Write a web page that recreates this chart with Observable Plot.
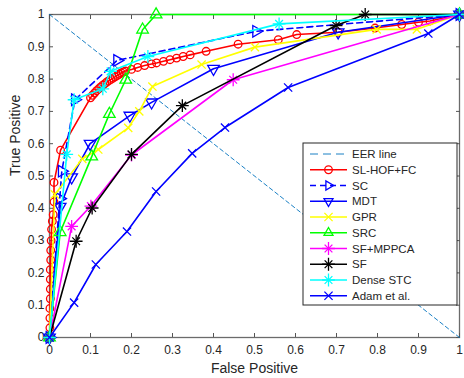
<!DOCTYPE html>
<html><head><meta charset="utf-8">
<script src="https://cdn.jsdelivr.net/npm/d3@7"></script>
<script src="https://cdn.jsdelivr.net/npm/@observablehq/plot@0.6"></script>
<style>body{margin:0;background:#fff;font-family:"Liberation Sans",Arial,sans-serif}</style>
</head><body><div id="chart"></div>
<script>
// ---- data (False Positive rate, True Positive rate) ----
const ticks = [0,0.1,0.2,0.3,0.4,0.5,0.6,0.7,0.8,0.9,1];
const seriesNames = ["EER line","SL-HOF+FC","SC","MDT","GPR","SRC","SF+MPPCA","SF","Dense STC","Adam et al."];

const eerX = [0,1];
const eerY = [1,0];

const slhofX = [0,0.001,0.001,0.001,0.002,0.002,0.002,0.002,0.003,0.003,0.004,0.005,0.007,0.009,0.011,0.011,0.027,
  0.100,0.105,0.110,0.115,0.120,0.125,0.130,0.135,0.140,0.145,0.150,0.155,0.160,0.165,0.170,0.175,0.180,0.185,
  0.200,0.215,0.232,0.249,0.261,0.278,0.294,0.310,0.326,0.343,0.382,0.460,0.558,0.603,0.704,0.794,0.859,0.900,0.928,1];
const slhofY = [0,0.03,0.06,0.09,0.12,0.15,0.18,0.21,0.24,0.27,0.30,0.335,0.36,0.38,0.42,0.48,0.58,
  0.742,0.750,0.757,0.764,0.770,0.776,0.781,0.786,0.791,0.795,0.799,0.803,0.807,0.811,0.815,0.819,0.822,0.825,
  0.830,0.836,0.842,0.847,0.850,0.855,0.860,0.865,0.870,0.875,0.886,0.908,0.922,0.938,0.945,0.958,0.969,0.976,0.980,1];

const scX = [0,0.025,0.030,0.062,0.165,0.504,1];
const scY = [0,0.43,0.515,0.736,0.858,0.948,1];

const mdtX = [0,0.026,0.054,0.099,0.196,0.249,0.400,0.704,1];
const mdtY = [0,0.405,0.496,0.600,0.687,0.728,0.832,0.945,1];

const gprX = [0,0.013,0.080,0.119,0.192,0.219,0.251,0.371,0.501,0.798,0.896,1];
const gprY = [0,0.443,0.553,0.582,0.649,0.700,0.777,0.845,0.899,0.954,0.954,1];

const srcX = [0,0.026,0.103,0.146,0.186,0.227,0.260,1];
const srcY = [0,0.326,0.560,0.692,0.798,0.953,1,1];

const sfmX = [0,0.054,0.101,0.200,0.448,1];
const sfmY = [0,0.344,0.407,0.565,0.798,1];

const sfX = [0,0.065,0.104,0.200,0.324,0.699,0.770,1];
const sfY = [0,0.298,0.401,0.567,0.718,0.966,1,1];

const stcX = [0,0.042,0.060,0.130,0.149,0.240,0.560,1];
const stcY = [0,0.567,0.736,0.770,0.824,0.870,0.971,1];

const adamX = [0,0.060,0.113,0.189,0.260,0.348,0.428,0.582,0.924,1];
const adamY = [0,0.108,0.226,0.328,0.452,0.570,0.650,0.774,0.941,1];

// ---- series definitions ----
const rows = (xs, ys) => xs.map((x, i) => ({x, y: ys[i]}));
const series = [
  {name: seriesNames[1], data: rows(slhofX, slhofY), color: "#ff0000", sym: "circle"},
  {name: seriesNames[2], data: rows(scX, scY), color: "#0000ff", sym: "triangle", rot: 90, dash: "6,4"},
  {name: seriesNames[3], data: rows(mdtX, mdtY), color: "#0000ff", sym: "triangle", rot: 180},
  {name: seriesNames[4], data: rows(gprX, gprY), color: "#ffff00", sym: "times"},
  {name: seriesNames[5], data: rows(srcX, srcY), color: "#00ff00", sym: "triangle", rot: 0},
  {name: seriesNames[6], data: rows(sfmX, sfmY), color: "#ff00ff", sym: "star8"},
  {name: seriesNames[7], data: rows(sfX, sfY), color: "#000000", sym: "star8"},
  {name: seriesNames[8], data: rows(stcX, stcY), color: "#00ffff", sym: "star8"},
  {name: seriesNames[9], data: rows(adamX, adamY), color: "#0000ff", sym: "times"}
];

const LW = 1.6;
function dotMarks(s) {
  const base = {x: "x", y: "y", stroke: s.color, fill: "none", strokeWidth: 1.3};
  if (s.sym === "star8") return [
    Plot.dot(s.data, {...base, symbol: "plus", r: 4.2}),
    Plot.dot(s.data, {...base, symbol: "times", r: 3.6})
  ];
  if (s.sym === "triangle") return [Plot.dot(s.data, {...base, symbol: "triangle", r: 4.3, rotate: s.rot})];
  if (s.sym === "times") return [Plot.dot(s.data, {...base, symbol: "times", r: 3.8})];
  return [Plot.dot(s.data, {...base, symbol: "circle", r: 3.8})];
}

const fmt = d => String(+d.toFixed(1));
const axisCol = "#262626";

const marks = [
  Plot.frame({stroke: "#6b6b6b", strokeWidth: 1.3}),
  Plot.axisX(ticks, {anchor: "bottom", tickSize: 0, tickPadding: 8, tickFormat: fmt, fontSize: 12, label: null, color: axisCol}),
  Plot.axisY(ticks, {anchor: "left", tickSize: 0, tickPadding: 5, tickFormat: fmt, fontSize: 12, label: null, color: axisCol}),
  Plot.axisX(ticks, {anchor: "bottom", tickSize: -4, tickFormat: () => "", label: null, stroke: "#555"}),
  Plot.axisX(ticks, {anchor: "top", tickSize: -4, tickFormat: () => "", label: null, stroke: "#555"}),
  Plot.axisY(ticks, {anchor: "left", tickSize: -4, tickFormat: () => "", label: null, stroke: "#555"}),
  Plot.axisY(ticks, {anchor: "right", tickSize: -4, tickFormat: () => "", label: null, stroke: "#555"}),
  Plot.text(["False Positive"], {frameAnchor: "bottom", dy: 35, fontSize: 14, fill: axisCol}),
  Plot.text(["True Positive"], {frameAnchor: "left", dx: -34, rotate: -90, fontSize: 14, fill: axisCol}),
  Plot.line(rows(eerX, eerY), {x: "x", y: "y", stroke: "#0072BD", strokeWidth: 0.9, strokeDasharray: "4,3"})
];
for (const s of series) {
  marks.push(Plot.line(s.data, {x: "x", y: "y", stroke: s.color, strokeWidth: LW, strokeDasharray: s.dash}));
  marks.push(...dotMarks(s));
}

const svg = Plot.plot({
  width: 464, height: 378,
  marginLeft: 49, marginRight: 5, marginTop: 14, marginBottom: 41,
  x: {domain: [0, 1]}, y: {domain: [0, 1]},
  style: {fontFamily: "'Liberation Sans', Arial, sans-serif", fontSize: "12px", background: "white", overflow: "visible"},
  marks
});
document.getElementById("chart").appendChild(svg);

// ---- legend (inside the axes) ----
const lg = d3.select(svg).append("g").attr("font-family", "'Liberation Sans', Arial, sans-serif")
  .attr("font-size", 11.5).attr("text-anchor", "start");
lg.append("rect").attr("x", 303).attr("y", 143).attr("width", 154).attr("height", 162)
  .attr("fill", "white").attr("stroke", "#262626").attr("stroke-width", 1);
const legendItems = [{name: seriesNames[0], color: "#0072BD", dash: "8,5", thin: true}, ...series];
const symPath = (type, r) => d3.symbol().type(type).size(Math.PI * r * r)();
legendItems.forEach((s, i) => {
  const cy = 154 + i * 15.75;
  const g = lg.append("g");
  g.append("line").attr("x1", 310).attr("x2", 347).attr("y1", cy).attr("y2", cy)
    .attr("stroke", s.color).attr("stroke-width", s.thin ? 0.9 : LW).attr("stroke-dasharray", s.dash || null);
  const m = g.append("g").attr("transform", `translate(328.5,${cy})`).attr("fill", "none").attr("stroke", s.color).attr("stroke-width", 1.3);
  if (s.sym === "circle") m.append("path").attr("d", symPath(d3.symbolCircle, 3.8));
  if (s.sym === "triangle") m.append("path").attr("d", symPath(d3.symbolTriangle2, 4.3)).attr("transform", `rotate(${s.rot})`);
  if (s.sym === "times") m.append("path").attr("d", symPath(d3.symbolTimes, 3.8));
  if (s.sym === "star8") {
    m.append("path").attr("d", symPath(d3.symbolPlus, 4.2));
    m.append("path").attr("d", symPath(d3.symbolTimes, 3.6));
  }
  g.append("text").attr("x", 352).attr("y", cy).attr("dy", "0.35em").attr("text-anchor", "start")
    .attr("fill", "#262626").text(s.name);
});
</script>
</body></html>
